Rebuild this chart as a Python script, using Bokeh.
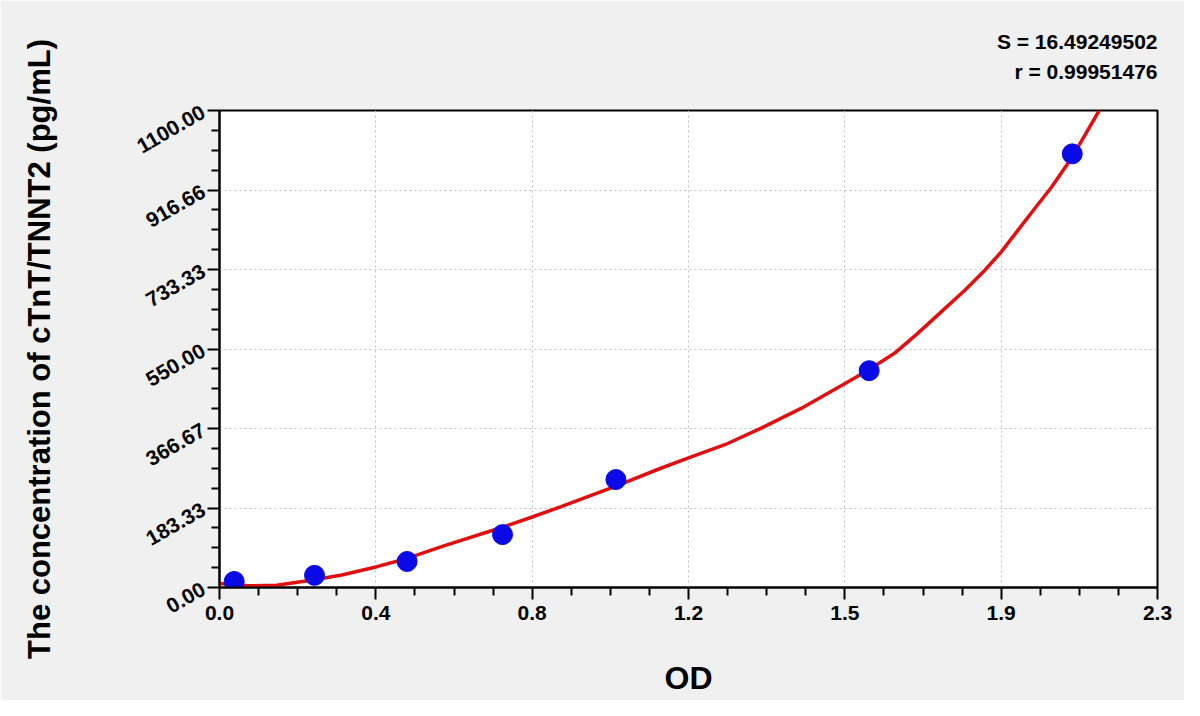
import math
from bokeh.plotting import figure
from bokeh.models import FixedTicker, Range1d
from bokeh.embed import file_html
from bokeh.resources import INLINE

# Standard points (OD vs concentration)
OD = [0.036, 0.233, 0.460, 0.694, 0.972, 1.593, 2.091]
CONC = [14, 28, 60, 122, 249, 500, 1000]

# Fitted curve
FIT_OD = [0.00, 0.07, 0.14, 0.233, 0.30, 0.386, 0.46, 0.55, 0.694, 0.765, 0.836,
          0.972, 1.082, 1.15, 1.246, 1.327, 1.426, 1.548, 1.597, 1.655, 1.712,
          1.769, 1.827, 1.876, 1.917, 1.958, 1.999, 2.040, 2.091, 2.157]
FIT_CONC = [9, 4, 5, 18, 29, 48, 67, 96, 139, 162, 186,
            234, 275, 299, 332, 367, 413, 478, 505, 540, 586,
            635, 685, 731, 774, 824, 874, 923, 993, 1100]

X_TICKS = [0.0, 0.38333, 0.76667, 1.15, 1.53333, 1.91667, 2.3]
X_LABELS = ["0.0", "0.4", "0.8", "1.2", "1.5", "1.9", "2.3"]
Y_TICKS = [0.0, 183.33, 366.67, 550.0, 733.33, 916.66, 1100.0]
Y_LABELS = ["0.00", "183.33", "366.67", "550.00", "733.33", "916.66", "1100.00"]
STATS = ["S = 16.49249502", "r = 0.99951476"]

FONT = "Liberation Sans"

p = figure(width=1184, height=700, output_backend="svg", toolbar_location=None,
           x_range=Range1d(0, 2.3), y_range=Range1d(0, 1100),
           min_border_left=219, min_border_right=27, min_border_top=110, min_border_bottom=113)

p.background_fill_color = "white"
p.border_fill_color = "#f0f0f0"
p.outline_line_color = "black"
p.outline_line_width = 2

def minor(ticks, n=4):
    out = []
    for a, b in zip(ticks[:-1], ticks[1:]):
        for k in range(1, n):
            out.append(a + (b - a) * k / n)
    return out

p.xaxis.ticker = FixedTicker(ticks=X_TICKS, minor_ticks=minor(X_TICKS))
p.yaxis.ticker = FixedTicker(ticks=Y_TICKS, minor_ticks=minor(Y_TICKS))
p.xaxis.major_label_overrides = {t: l for t, l in zip(X_TICKS, X_LABELS)}
p.yaxis.major_label_overrides = {t: l for t, l in zip(Y_TICKS, Y_LABELS)}

for ax in (p.xaxis[0], p.yaxis[0]):
    ax.axis_line_color = "black"
    ax.axis_line_width = 2
    ax.major_tick_line_color = "black"
    ax.major_tick_line_width = 2
    ax.minor_tick_line_color = "black"
    ax.minor_tick_line_width = 2
    ax.major_tick_out = 12
    ax.major_tick_in = 0
    ax.minor_tick_out = 8
    ax.minor_tick_in = 0
    ax.major_label_text_font = FONT
    ax.major_label_text_font_style = "bold"
    ax.major_label_text_font_size = "21px"
    ax.major_label_text_color = "black"
    ax.axis_label_text_font = FONT
    ax.axis_label_text_font_style = "bold"
    ax.axis_label_text_color = "black"

p.xaxis.axis_label = "OD"
p.xaxis.axis_label_text_font_size = "32px"
p.xaxis.axis_label_standoff = 37
p.xaxis.major_label_standoff = 6

p.yaxis.axis_label = "The concentration of cTnT/TNNT2 (pg/mL)"
p.yaxis.axis_label_text_font_size = "31px"
p.yaxis.major_label_orientation = math.radians(30)
p.yaxis.major_label_standoff = 4
p.yaxis.axis_label_standoff = 72

p.grid.grid_line_color = "#c0c0c0"
p.grid.grid_line_dash = "2 3"
p.grid.grid_line_width = 1

p.line(FIT_OD, FIT_CONC, line_color="#e01010", line_width=3.5)
p.scatter(OD, CONC, size=20, fill_color="#0a0ae6", line_color="#0a0ae6")

# stats lines, right aligned above the frame (second line padded so both end flush right)
p.title.text = STATS[0] + "\n" + "\u00a0\u00a0\u00a0" + STATS[1]
p.title.align = "right"
p.title.text_font = FONT
p.title.text_font_style = "bold"
p.title.text_font_size = "21px"
p.title.text_line_height = 1.3
p.title.text_color = "black"
p.title.standoff = 55

open("out.html", "w").write(file_html(p, INLINE))
